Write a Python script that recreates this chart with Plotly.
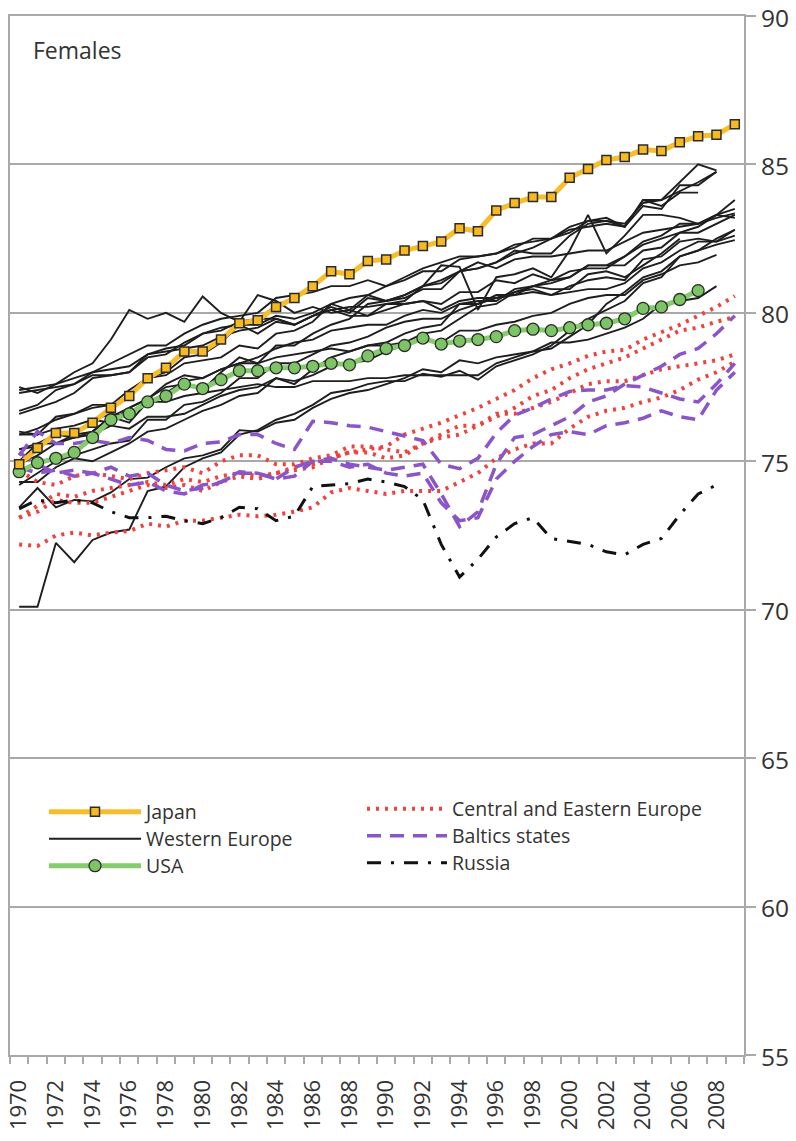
import plotly.graph_objects as go

years = list(range(1970, 2010))

japan = [74.9, 75.45, 75.95, 75.95, 76.3, 76.8, 77.2, 77.8, 78.15, 78.7,
         78.7, 79.1, 79.65, 79.75, 80.2, 80.5, 80.9, 81.4, 81.3, 81.75,
         81.8, 82.1, 82.25, 82.4, 82.85, 82.75, 83.45, 83.7, 83.9, 83.9,
         84.55, 84.85, 85.15, 85.25, 85.5, 85.45, 85.75, 85.95, 86.0, 86.35]

usa = [74.65, 74.95, 75.1, 75.3, 75.8, 76.4, 76.6, 77.0, 77.2, 77.6,
       77.45, 77.75, 78.05, 78.05, 78.15, 78.15, 78.2, 78.3, 78.25, 78.55,
       78.8, 78.9, 79.15, 78.95, 79.05, 79.1, 79.2, 79.4, 79.45, 79.4,
       79.5, 79.6, 79.65, 79.8, 80.15, 80.2, 80.45, 80.75, None, None]

western_europe = [
    [77.5, 77.3, 77.6, 78.0, 78.3, 79.1, 80.1, 79.8, 80.0, 79.7,
     80.55, 80.0, 79.7, 80.6, 80.4, 80.0, 80.2, 80.0, 80.1, 80.6,
     80.4, 80.6, 80.9, 81.6, 81.55, 80.1, 81.2, 81.3, 81.5, 81.2,
     82.1, 83.3, 82.0, 82.6, 83.3, 83.3, 83.2, 83.0, 83.3, 83.5],
    [77.4, 77.5, 77.6, 77.8, 78.0, 78.1, 78.2, 78.6, 78.8, 78.9,
     79.3, 79.4, 79.7, 79.8, 79.8, 79.6, 79.9, 80.1, 79.9, 79.9,
     80.1, 80.3, 80.4, 80.3, 80.7, 80.7, 81.1, 81.0, 81.3, 81.1,
     81.4, 81.5, 81.5, 81.9, 82.3, 82.5, 82.7, 82.7, 83.0, 83.3],
    [77.3, 77.4, 77.5, 77.6, 77.9, 77.9, 78.0, 78.6, 78.7, 78.8,
     78.9, 79.2, 79.4, 79.5, 79.8, 79.6, 79.9, 80.2, 80.0, 80.5,
     80.4, 80.5, 80.8, 80.8, 81.4, 81.7, 81.5, 81.8, 81.9, 81.9,
     82.0, 82.1, 82.1, 82.4, 82.7, 82.8, 82.9, 83.0, 83.2, 83.35],
    [76.6, 76.8, 77.0, 77.3, 77.8, 77.9, 78.0, 78.5, 78.6, 79.0,
     79.3, 79.5, 79.6, 79.6, 79.9, 79.8, 80.0, 80.3, 80.1, 79.9,
     80.3, 80.3, 80.4, 80.1, 80.4, 80.5, 80.5, 80.7, 80.8, 80.6,
     80.7, 80.8, 80.8, 81.0, 81.5, 81.7, 82.1, 82.4, 82.4, 82.6],
    [76.7, 76.9, 77.4, 77.6, 78.0, 78.3, 78.6, 78.9, 78.9, 79.3,
     79.6, 79.8, 79.9, 80.0, 80.5, 80.6, 80.7, 80.9, 80.9, 81.1,
     80.9, 81.2, 81.5, 81.7, 81.9, 81.9, 82.0, 82.2, 82.5, 82.5,
     82.7, 83.1, 83.1, 83.0, 83.7, 83.8, 84.1, 84.4, 84.75, None],
    [75.9, 76.1, 76.4, 76.6, 76.9, 76.9, 77.2, 77.8, 77.9, 78.3,
     78.4, 78.5, 78.9, 78.8, 79.3, 79.4, 79.7, 80.3, 80.5, 80.6,
     80.9, 81.1, 81.4, 81.4, 81.8, 81.9, 82.0, 82.3, 82.4, 82.5,
     82.8, 82.9, 83.0, 82.9, 83.8, 83.8, 84.4, 85.0, 84.8, None],
    [76.0, 75.9, 76.5, 76.6, 76.8, 76.9, 77.4, 77.8, 78.0, 78.5,
     78.6, 79.0, 79.6, 79.3, 79.7, 79.6, 79.9, 80.1, 80.2, 80.2,
     80.3, 80.4, 80.9, 81.0, 81.4, 81.5, 81.7, 82.1, 82.0, 82.0,
     82.6, 83.0, 83.1, 82.9, 83.6, 83.5, 84.3, 84.3, 84.75, None],
    [75.4, 75.5, 75.9, 75.9, 76.4, 76.3, 76.8, 77.1, 77.5, 77.6,
     77.4, 78.0, 78.5, 78.3, 78.9, 78.9, 79.3, 79.6, 79.8, 80.3,
     80.4, 80.6, 80.9, 81.1, 81.4, 81.5, 81.7, 82.0, 82.2, 82.5,
     82.9, 83.1, 83.2, 82.9, 83.8, 83.6, 84.05, 84.05, None, None],
    [74.3, 74.3, 74.8, 75.1, 75.0, 75.3, 75.6, 76.0, 76.1, 76.4,
     76.7, 76.9, 77.2, 77.3, 77.8, 77.6, 78.1, 78.5, 78.7, 78.9,
     78.9, 79.0, 79.3, 79.4, 79.8, 80.2, 80.3, 80.7, 80.9, 81.0,
     81.2, 81.6, 81.6, 81.6, 82.1, 82.2, 82.7, 82.9, 83.3, 83.2],
    [73.45, 74.1, 73.45, 73.7, 73.65, 73.95, 74.4, 74.45, 74.8, 75.1,
     75.2, 75.4, 76.05, 76.0, 76.3, 76.4, 76.8, 77.1, 77.3, 77.4,
     77.6, 77.8, 78.1, 78.0, 78.4, 78.3, 78.5, 78.6, 78.7, 78.8,
     79.2, 79.6, 80.3, 80.7, 81.2, 81.4, 81.9, 82.1, 82.5, 82.8],
    [70.1, 70.1, 72.25, 71.6, 72.35, 72.6, 72.7, 74.0, 74.15, 74.8,
     75.1, 75.3, 75.9, 76.05, 76.4, 76.6, 76.9, 77.3, 77.4, 77.6,
     77.7, 77.7, 77.95, 77.85, 78.05, 77.75, 78.2, 78.4, 78.6, 78.9,
     79.4, 79.8, 80.1, 80.4, 81.0, 81.2, 81.9, 82.1, 82.3, 82.45],
    [75.9, 75.9, 76.1, 76.2, 76.4, 76.6, 76.5, 77.0, 77.0, 77.2,
     77.3, 77.4, 77.5, 77.6, 77.5, 77.5, 77.7, 77.7, 77.7, 77.8,
     77.8, 77.9, 77.9, 77.9, 77.9, 77.9, 78.3, 78.5, 78.7, 79.0,
     79.0, 79.1, 79.3, 79.5, 79.8, 80.3, 80.4, 80.5, 80.9, None],
    [75.4, 75.6, 75.6, 75.8, 75.9, 76.2, 76.1, 76.5, 76.5, 76.6,
     76.9, 77.2, 77.4, 77.5, 77.8, 77.7, 77.9, 78.2, 78.3, 78.4,
     78.7, 78.9, 79.1, 79.0, 79.4, 79.4, 79.6, 79.7, 79.9, 80.0,
     80.3, 80.5, 80.6, 80.6, 81.1, 81.3, 81.6, 81.7, 81.95, None],
    [74.2, 74.6, 75.0, 75.2, 75.4, 75.6, 75.7, 76.4, 76.4, 76.9,
     77.0, 77.3, 77.8, 77.8, 78.3, 78.3, 78.6, 78.9, 79.0, 79.2,
     79.5, 79.7, 79.8, 79.8, 80.1, 80.3, 80.5, 80.6, 80.7, 80.6,
     80.9, 81.1, 81.2, 81.1, 81.8, 81.9, 82.4, 82.5, 82.4, 82.8],
    [74.9, 75.2, 75.6, 75.9, 76.0, 76.5, 76.8, 77.1, 77.6, 77.9,
     77.8, 78.1, 78.3, 78.3, 78.5, 78.6, 78.7, 78.8, 78.7, 78.9,
     79.0, 79.3, 79.5, 79.6, 80.3, 80.3, 80.6, 80.6, 80.9, 81.1,
     81.2, 81.6, 81.6, 81.9, 82.4, 82.6, 83.0, 83.0, 83.3, 83.8],
    [75.0, 75.6, 75.9, 75.8, 76.0, 76.5, 76.3, 77.0, 77.3, 77.7,
     77.8, 78.1, 78.3, 78.5, 78.8, 79.0, 79.1, 79.4, 79.5, 79.6,
     79.6, 79.9, 80.1, 80.0, 80.3, 80.4, 80.4, 80.8, 80.9, 80.8,
     80.8, 81.3, 81.4, 81.2, 81.6, 82.0, 82.5, None, None, None],
]

central_eastern_europe = [
    [73.1, 73.3, 73.7, 73.6, 73.6, 73.8, 74.0, 74.2, 74.1, 74.2,
     74.0, 74.3, 74.5, 74.4, 74.6, 74.7, 74.8, 75.1, 75.3, 75.4,
     75.5, 75.9, 76.1, 76.3, 76.55, 76.8, 77.1, 77.4, 77.8, 78.1,
     78.3, 78.55, 78.7, 78.75, 79.1, 79.35, 79.6, 79.9, 80.2, 80.57],
    [74.7, 74.3, 74.2, 74.5, 74.6, 74.5, 74.4, 74.6, 74.7, 74.8,
     74.6, 75.0, 75.2, 75.2, 74.9, 74.9, 75.1, 75.2, 75.5, 75.5,
     75.4, 75.3, 75.6, 75.8, 75.9, 76.2, 76.5, 76.8, 77.2, 77.4,
     77.8, 78.1, 78.3, 78.5, 78.8, 79.1, 79.4, 79.5, 79.7, 79.86],
    [73.1, 73.5, 73.9, 73.8, 74.0, 74.1, 74.2, 74.3, 74.2, 74.4,
     74.3, 74.5, 74.6, 74.5, 74.6, 74.8, 74.9, 75.1, 75.3, 75.3,
     75.1, 75.2, 75.6, 75.9, 76.2, 76.2, 76.6, 76.6, 76.8, 77.0,
     77.3, 77.6, 77.7, 77.7, 77.9, 78.1, 78.2, 78.3, 78.4, 78.6],
    [72.2, 72.15, 72.5, 72.6, 72.5, 72.6, 72.65, 72.9, 72.8, 73.0,
     73.0, 73.1, 73.2, 73.15, 73.2, 73.3, 73.45, 73.95, 74.1, 74.0,
     73.9, 74.0, 74.0, 74.0, 74.3, 74.6, 75.1, 75.4, 75.6, 75.6,
     76.1, 76.5, 76.7, 76.8, 77.0, 77.15, 77.4, 77.75, 78.0, 78.35],
]

baltic_states = [
    [75.2, 76.0, 75.6, 75.6, 75.7, 75.6, 75.8, 75.7, 75.4, 75.35,
     75.6, 75.65, 75.9, 75.9, 75.6, 75.4, 76.35, 76.3, 76.2, 76.15,
     76.0, 75.85, 75.7, 74.9, 74.75, 75.1, 75.95, 76.55, 76.8, 77.1,
     77.35, 77.4, 77.4, 77.55, 77.5, 77.3, 77.1, 77.0, 77.6, 78.3],
    [74.8, 74.6, 74.7, 74.5, 74.6, 74.4, 74.2, 74.3, 74.0, 73.9,
     74.2, 74.3, 74.6, 74.6, 74.4, 74.5, 75.0, 75.1, 74.9, 74.8,
     74.7, 74.8, 74.9, 73.9, 72.8, 73.3, 74.9, 75.8, 75.9, 76.2,
     76.5, 77.0, 77.2, 77.6, 77.9, 78.2, 78.6, 78.8, 79.3, 79.9],
    [75.3, 74.9, 74.6, 74.7, 74.6, 74.8, 74.5, 74.6, 74.2, 74.0,
     74.1, 74.3, 74.65, 74.6, 74.4, 74.8, 75.0, 75.0, 74.8, 74.9,
     74.6, 74.5, 74.6, 73.6, 73.0, 73.1, 74.4, 75.0, 75.5, 75.9,
     76.0, 75.9, 76.2, 76.3, 76.45, 76.7, 76.5, 76.4, 77.4, 78.0],
]

russia = [73.4, 73.7, 73.6, 73.7, 73.6, 73.3, 73.1, 73.1, 73.15, 73.0,
          72.9, 73.1, 73.45, 73.4, 73.0, 73.15, 74.15, 74.2, 74.25, 74.4,
          74.3, 74.15, 73.7, 72.2, 71.1, 71.7, 72.45, 72.9, 73.1, 72.4,
          72.3, 72.2, 71.95, 71.85, 72.2, 72.4, 73.2, 73.9, 74.2, None]

legend_labels = ["Japan", "Western Europe", "USA",
                 "Central and Eastern Europe", "Baltics states", "Russia"]

FONT = "Open Sans"
GRID = "#A9A9A9"
TEXT = "#333333"

fig = go.Figure()

for i, series in enumerate(western_europe):
    fig.add_trace(go.Scatter(
        x=years, y=series, mode="lines",
        line=dict(color="#1E1E1E", width=1.9),
        name=legend_labels[1], legendgroup="we", showlegend=(i == 0),
        legend="legend2", hoverinfo="skip"))

for i, series in enumerate(central_eastern_europe):
    fig.add_trace(go.Scatter(
        x=years, y=series, mode="lines",
        line=dict(color="#F0413C", width=4, dash="3px,6px"),
        name=legend_labels[3], legendgroup="cee", showlegend=(i == 0),
        legend="legend4", hoverinfo="skip"))

for i, series in enumerate(baltic_states):
    fig.add_trace(go.Scatter(
        x=years, y=series, mode="lines",
        line=dict(color="#8A55C6", width=3.5, dash="14px,9px"),
        name=legend_labels[4], legendgroup="bal", showlegend=(i == 0),
        legend="legend5", hoverinfo="skip"))

fig.add_trace(go.Scatter(
    x=years, y=russia, mode="lines",
    line=dict(color="#111111", width=3, dash="14px,10px,3px,10px"),
    name=legend_labels[5], legend="legend6", hoverinfo="skip"))

fig.add_trace(go.Scatter(
    x=years, y=usa, mode="lines+markers",
    line=dict(color="#86CC6E", width=5),
    marker=dict(symbol="circle", size=12, color="#7CC465",
                line=dict(color="#2B2B2B", width=1.3)),
    name=legend_labels[2], legend="legend3", hoverinfo="skip"))

fig.add_trace(go.Scatter(
    x=years, y=japan, mode="lines+markers",
    line=dict(color="#F8BD2C", width=5),
    marker=dict(symbol="square", size=9, color="#F6B922",
                line=dict(color="#2B2B2B", width=1.5)),
    name=legend_labels[0], legend="legend", hoverinfo="skip"))

even_years = [y for y in years if y % 2 == 0]
boundaries = [y - 0.5 for y in years] + [years[-1] + 0.5]

FIG_W, FIG_H = 796, 1141
PLOT_TOP, PLOT_BOTTOM, PLOT_LEFT, PLOT_RIGHT = 16, 1055, 10, 744


def py(pix):
    return (PLOT_BOTTOM - pix) / (PLOT_BOTTOM - PLOT_TOP)


def px(pix):
    return (pix - PLOT_LEFT) / (PLOT_RIGHT - PLOT_LEFT)


def legend_box(xpix, ypix, width):
    return dict(x=px(xpix), y=py(ypix), xanchor="left", yanchor="middle",
                bgcolor="rgba(0,0,0,0)", itemwidth=width,
                font=dict(family=FONT, size=19.5, color=TEXT))


fig.update_layout(
    width=FIG_W, height=FIG_H,
    margin=dict(l=PLOT_LEFT, r=FIG_W - PLOT_RIGHT, t=PLOT_TOP,
                b=FIG_H - PLOT_BOTTOM, autoexpand=False),
    paper_bgcolor="white", plot_bgcolor="white",
    font=dict(family=FONT, color=TEXT),
    showlegend=True,
    legend=legend_box(44, 812, 92),
    legend2=legend_box(44, 839, 92),
    legend3=legend_box(44, 866, 92),
    legend4=legend_box(362, 809, 80),
    legend5=legend_box(362, 836, 80),
    legend6=legend_box(362, 863, 80),
    annotations=[dict(text="Females", x=px(31), y=py(50), xref="paper",
                      yref="paper", xanchor="left", yanchor="middle",
                      showarrow=False,
                      font=dict(family=FONT, size=23, color=TEXT))],
)

fig.update_xaxes(
    range=[years[0] - 0.5, years[-1] + 0.5],
    tickvals=even_years, ticktext=[str(y) for y in even_years],
    tickangle=-90, ticks="", showgrid=False, zeroline=False,
    showline=True, linecolor=GRID, linewidth=2, mirror=True,
    automargin=False, ticklabelstandoff=14, ticklabeloverflow="allow",
    tickfont=dict(family=FONT, size=22, color=TEXT),
    minor=dict(tickvals=boundaries, ticks="outside", ticklen=7,
               tickcolor=GRID, tickwidth=1.5, showgrid=False),
)

fig.update_yaxes(
    range=[55, 90], dtick=5, side="right",
    showgrid=True, gridcolor=GRID, gridwidth=2, zeroline=False,
    showline=True, linecolor=GRID, linewidth=2, mirror=True,
    automargin=False, ticklabeloverflow="allow", ticklabelshift=2,
    ticks="outside", ticklen=10, tickcolor=GRID, tickwidth=2,
    tickfont=dict(family=FONT, size=24.5, color=TEXT),
)

# the page's default 8px body margin would push the figure off its 796x1141 frame
fig.write_html("out.html",
               config={"displayModeBar": False},
               post_script="document.body.style.margin = '0';")
